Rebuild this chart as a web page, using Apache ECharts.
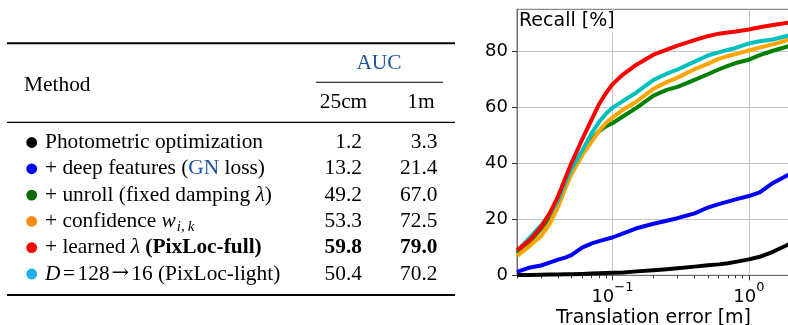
<!DOCTYPE html>
<html><head><meta charset="utf-8">
<script src="https://cdn.jsdelivr.net/npm/echarts@6/dist/echarts.min.js"></script>
<style>html,body{margin:0;padding:0;background:#fff}#c{width:788px;height:325px}</style>
</head><body><div id="c"></div>
<script>
// ---------- data ----------
const xValues = [0.02,0.025,0.03,0.035,0.04,0.045,0.05,0.06,0.07,0.08,0.09,0.1,0.12,0.15,0.2,0.25,0.3,0.4,0.5,0.6,0.7,0.8,1.0,1.2,1.5,2.0];
const recallPhotometric = [0.1,0.15,0.2,0.25,0.3,0.35,0.4,0.5,0.6,0.7,0.8,0.9,1.0,1.4,1.8,2.2,2.5,3.1,3.6,3.9,4.3,4.8,5.7,6.6,8.4,11.3];
const recallDeep = [1.2,2.8,3.5,4.6,5.6,6.3,7.2,9.9,11.3,12.2,12.9,13.5,15.0,16.8,18.4,19.5,20.4,22.1,24.2,25.4,26.3,27.1,28.3,29.6,33.0,36.2];
const recallUnroll = [7.9,12.2,16.6,21.0,26.0,32.5,37.8,44.0,48.4,51.5,53.3,54.3,56.8,59.8,64.2,66.2,67.3,69.8,71.8,73.5,74.8,75.8,77.0,78.6,80.2,82.0];
const recallConfidence = [6.9,10.6,14.0,18.6,24.5,30.8,36.0,42.8,47.6,51.6,54.5,56.3,59.2,62.0,66.6,69.0,70.6,73.6,75.5,77.3,78.3,79.0,80.3,81.3,82.5,84.3];
const recallLearned = [8.9,12.8,17.2,22.5,28.2,34.5,40.0,48.5,55.3,61.2,65.2,68.2,71.8,75.2,78.8,80.6,82.0,84.0,85.4,86.3,86.7,87.1,87.8,88.6,89.4,90.3];
const recallLight = [8.6,13.6,17.8,22.0,26.8,33.0,38.0,44.5,50.5,54.8,57.8,59.8,62.3,65.3,69.8,72.0,73.5,76.3,78.5,79.6,80.5,81.2,82.8,83.6,84.2,85.8];

const yTickValues = [0, 20, 40, 60, 80];
const xMajorTicks = [0.1, 1];
const xMinorTicks = [0.02,0.03,0.04,0.05,0.06,0.07,0.08,0.09,0.2,0.3,0.4,0.5,0.6,0.7,0.8,0.9,2];

const tableMethods = [
  'Photometric optimization',
  '+ deep features ({gn|GN} loss)',
  '+ unroll (fixed damping {it|λ})',
  '+ confidence {it|w}{sub|i,\u2009k}',
  '+ learned {it|λ} {b|(PixLoc-full)}',
  '{it|D}{op|=}128{ar|→}16 (PixLoc-light)'
];
const tableAuc25cm = ['1.2', '13.2', '49.2', '53.3', '59.8', '50.4'];
const tableAuc1m = ['3.3', '21.4', '67.0', '72.5', '79.0', '70.2'];
const tableHeader = { method: 'Method', group: 'AUC', col1: '25cm', col2: '1m' };
const boldRow = 4;

// ---------- styles ----------
const dotColors = ['#000000', '#0000ff', '#0a6b0a', '#ff8a10', '#ff0000', '#1ab2ee'];
const lineColors = ['#000000', '#0000ff', '#008000', '#ffa500', '#00bfbf', '#ff0000'];
const linkBlue = '#1d55a5';
const serif = '"Liberation Serif", "Times New Roman", serif';
const sans = '"DejaVu Sans", sans-serif';
const TFS = 21.4;

const chart = echarts.init(document.getElementById('c'), null, { renderer: 'canvas' });

function pairs(ys) { return xValues.map((x, i) => [x, ys[i]]); }

const seriesList = [
  recallPhotometric, recallDeep, recallUnroll, recallConfidence, recallLight, recallLearned
].map((ys, i) => ({
  type: 'line',
  xAxisIndex: 0, yAxisIndex: 0,
  data: pairs(ys),
  showSymbol: false,
  symbol: 'none',
  lineStyle: { width: 4, color: lineColors[i], join: 'round', cap: 'butt' },
  itemStyle: { color: lineColors[i] },
  z: 3 + i,
  animation: false,
  clip: true
}));

// ---------- table graphics ----------
const graphics = [];
const tableLeft = 7, tableRight = 455;
graphics.push({ type: 'rect', shape: { x: tableLeft, y: 42.3, width: tableRight - tableLeft, height: 2 }, style: { fill: '#000' } });
graphics.push({ type: 'rect', shape: { x: 316, y: 81.8, width: 127, height: 1 }, style: { fill: '#000' } });
graphics.push({ type: 'rect', shape: { x: tableLeft, y: 121.7, width: tableRight - tableLeft, height: 1.3 }, style: { fill: '#000' } });
graphics.push({ type: 'rect', shape: { x: tableLeft, y: 294, width: tableRight - tableLeft, height: 2 }, style: { fill: '#000' } });

function txt(text, x, y, align, extra) {
  return {
    type: 'text', x: x, y: y,
    style: Object.assign({
      text: text, fill: '#000', fontSize: TFS, fontFamily: serif,
      align: align, verticalAlign: 'middle'
    }, extra || {})
  };
}
graphics.push(txt(tableHeader.method, 24, 85.5, 'left'));
graphics.push(txt(tableHeader.group, 379, 63, 'center', { fill: linkBlue }));
graphics.push(txt(tableHeader.col1, 343.5, 102.3, 'center'));
graphics.push(txt(tableHeader.col2, 421, 102.3, 'center'));

const richRow = {
  gn: { fill: linkBlue, fontSize: TFS, fontFamily: serif, lineHeight: 26 },
  it: { fontStyle: 'italic', fontSize: TFS, fontFamily: serif, lineHeight: 26 },
  sub: { fontStyle: 'italic', fontSize: 15, fontFamily: serif, lineHeight: 15, verticalAlign: 'bottom', padding: [0, 0, 0, 1] },
  b: { fontWeight: 'bold', fontSize: TFS, fontFamily: serif, lineHeight: 26 },
  op: { fontSize: TFS, fontFamily: serif, lineHeight: 26, padding: [0, 2.5, 0, 2.5] },
  ar: { fontSize: 21, fontFamily: '"DejaVu Serif", serif', lineHeight: 26, padding: [0, 2, 0, 2] }
};
tableMethods.forEach((m, i) => {
  const y = 142.5 + i * 26.3;
  graphics.push({ type: 'circle', shape: { cx: 31.7, cy: y, r: 5.4 }, style: { fill: dotColors[i] } });
  graphics.push(txt(m, 45, y, 'left', { rich: richRow, lineHeight: 26 }));
  const w = i === boldRow ? 'bold' : 'normal';
  graphics.push(txt(tableAuc25cm[i], 362, y, 'right', { fontWeight: w }));
  graphics.push(txt(tableAuc1m[i], 437.5, y, 'right', { fontWeight: w }));
});

graphics.push({
  type: 'text', x: 518, y: 11.5, z: 100,
  style: { text: 'Recall [%]', fontSize: 19, fontFamily: sans, fill: '#000', align: 'left', verticalAlign: 'top',
           backgroundColor: '#fff', padding: [0, 2, 2, 1] }
});

const axisGrey = '#6e6e6e';
const option = {
  animation: false,
  backgroundColor: '#fff',
  grid: { left: 517, top: 9.3, width: 273, height: 266, show: true, borderColor: axisGrey, borderWidth: 1,
          backgroundColor: '#fff', containLabel: false, outerBoundsMode: 'none' },
  xAxis: [{
    type: 'log', logBase: 10, min: 0.02, max: 2, gridIndex: 0, position: 'bottom',
    axisLine: { show: true, lineStyle: { color: axisGrey, width: 1 } },
    axisTick: { show: true, customValues: xMajorTicks, length: 5, lineStyle: { color: '#333' } },
    axisLabel: {
      show: true, customValues: xMajorTicks, margin: 6,
      formatter: v => { const e = Math.round(Math.log10(v)); return '{b|10}{s|' + (e < 0 ? '−' + Math.abs(e) : e) + '}'; },
      rich: {
        b: { fontSize: 18, fontFamily: sans, color: '#000', lineHeight: 25, verticalAlign: 'bottom' },
        s: { fontSize: 13, fontFamily: sans, color: '#000', lineHeight: 13, verticalAlign: 'top' }
      }
    },
    splitLine: { show: true, lineStyle: { color: '#c4c4c4', width: 1 } },
    name: 'Translation error [m]', nameLocation: 'middle', nameGap: 33, nameMoveOverlap: false,
    nameTextStyle: { fontSize: 19, fontFamily: sans, color: '#000' }
  }, {
    type: 'log', logBase: 10, min: 0.02, max: 2, gridIndex: 0, position: 'bottom',
    axisLine: { show: false },
    axisTick: { show: true, customValues: xMinorTicks, length: 3, lineStyle: { color: '#333' } },
    axisLabel: { show: false },
    splitLine: { show: false }
  }],
  yAxis: [{
    type: 'value', min: 0, max: 95, gridIndex: 0,
    axisLine: { show: true, lineStyle: { color: axisGrey, width: 1 } },
    axisTick: { show: true, customValues: yTickValues, length: 5, lineStyle: { color: '#333' } },
    axisLabel: { show: true, customValues: yTickValues, margin: 9, fontSize: 18, fontFamily: sans, color: '#000' },
    splitLine: { show: true, lineStyle: { color: '#c4c4c4', width: 1 } }
  }],
  series: seriesList,
  graphic: graphics
};
chart.setOption(option);
</script>
</body></html>
